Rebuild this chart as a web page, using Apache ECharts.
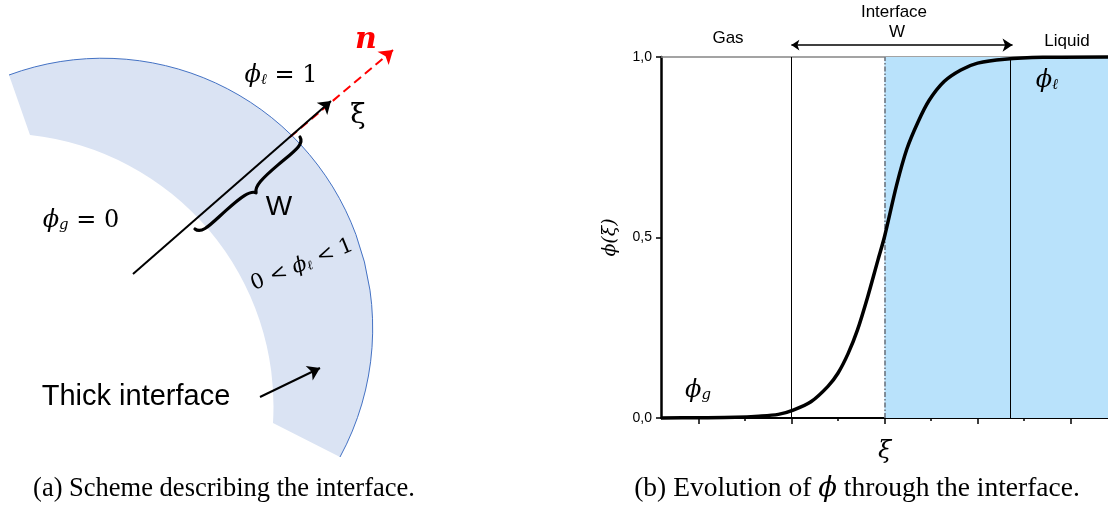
<!DOCTYPE html>
<html>
<head>
<meta charset="utf-8">
<script src="https://cdn.jsdelivr.net/npm/echarts@6/dist/echarts.min.js"></script>
<style>
html, body { margin: 0; padding: 0; background: #fff; }
#main { width: 1108px; height: 512px; }
</style>
</head>
<body>
<div id="main"></div>
<script>
// (b) phi(xi) 曲线 —— 点
var xiValues  = [-2.4, -2.0, -1.6, -1.35, -1.14, -0.98, -0.79, -0.61, -0.5, -0.39, -0.29, -0.18, -0.07, 0, 0.13, 0.24, 0.36, 0.48, 0.64, 0.82, 1.0, 1.29, 1.7, 2.4];
var phiValues = [0.0, 0.0008, 0.002, 0.005, 0.01, 0.022, 0.045, 0.087, 0.124, 0.179, 0.244, 0.336, 0.438, 0.502, 0.645, 0.745, 0.82, 0.88, 0.932, 0.964, 0.983, 0.994, 0.999, 1.0];
var yTicks = [0, 0.5, 1];
var xMajorTicks = [-2, -1, 0, 1, 2];
var xMinorTicks = [-1.5, -0.5, 0.5, 1.5];
var interfaceBounds = [-1, 1.35];
var interfaceArrow = [[-1, 1.033], [1.375, 1.033]];
var liquidStart = 0;

// (a) 示意图几何（左图像素单位）
var outerArc = [100, 331, 270];   // cx, cy, r
var innerArc = [0, 407, 273];
var bandEnds = [[9, 75], [340, 457], [273, 423], [30, 135]];
var xiArrow = [[133, 274], [331, 101]];
var nArrow = [[290, 137], [393, 50]];
var pointerArrow = [[260, 397], [320, 368]];
var braceEnds = [[195, 229], [300, 137]];
var braceDepth = 13;

var SANS = 'Liberation Sans';
var MATH = 'DejaVu Serif';
var CAPTION = 'Liberation Serif';

function fmt(v) { return v.toFixed(1).replace('.', ','); }

function renderScheme(params, api) {
    var a = api.coord(bandEnds[0]), b = api.coord(bandEnds[1]);
    var c = api.coord(bandEnds[2]), d = api.coord(bandEnds[3]);
    var R = api.size([outerArc[2], 0])[0];
    var r = api.size([innerArc[2], 0])[0];
    var band = 'M ' + a[0] + ' ' + a[1] +
        ' A ' + R + ' ' + R + ' 0 0 1 ' + b[0] + ' ' + b[1] +
        ' L ' + c[0] + ' ' + c[1] +
        ' A ' + r + ' ' + r + ' 0 0 0 ' + d[0] + ' ' + d[1] + ' Z';
    var edge = 'M ' + a[0] + ' ' + a[1] + ' A ' + R + ' ' + R + ' 0 0 1 ' + b[0] + ' ' + b[1];

    // 大括号：局部坐标下画，然后旋转到箭头方向
    var p0 = api.coord(braceEnds[0]), p1 = api.coord(braceEnds[1]);
    var L = Math.sqrt(Math.pow(p1[0] - p0[0], 2) + Math.pow(p1[1] - p0[1], 2));
    var ang = Math.atan2(-(p1[1] - p0[1]), p1[0] - p0[0]);
    var h = braceDepth, q = h * 0.5;
    var brace = 'M 0 0 C ' + (L * 0.01) + ' ' + (q * 1.3) + ' ' + (L * 0.1) + ' ' + (q * 1.05) + ' ' + (L * 0.25) + ' ' + q +
        ' C ' + (L * 0.4) + ' ' + (q * 0.95) + ' ' + (L * 0.48) + ' ' + (q * 1.1) + ' ' + (L * 0.5) + ' ' + h +
        ' C ' + (L * 0.52) + ' ' + (q * 1.1) + ' ' + (L * 0.6) + ' ' + (q * 0.95) + ' ' + (L * 0.75) + ' ' + q +
        ' C ' + (L * 0.9) + ' ' + (q * 1.05) + ' ' + (L * 0.99) + ' ' + (q * 1.3) + ' ' + L + ' 0';

    return {
        type: 'group',
        children: [
            { type: 'path', shape: { pathData: band }, style: { fill: '#dae3f3', stroke: null } },
            { type: 'path', shape: { pathData: edge }, style: { fill: null, stroke: '#4472c4', lineWidth: 1 } },
            { type: 'path', x: p0[0], y: p0[1], rotation: ang, shape: { pathData: brace },
              style: { fill: null, stroke: '#000', lineWidth: 3.2, lineCap: 'round', lineJoin: 'round' } }
        ]
    };
}

function mathText(x, y, parts, size, extra) {
    var rich = {
        i: { fontFamily: MATH, fontStyle: 'italic', fontSize: size, fill: '#000' },
        s: { fontFamily: MATH, fontStyle: 'italic', fontSize: size * 0.62, fill: '#000', verticalAlign: 'bottom' },
        n: { fontFamily: MATH, fontSize: size, fill: '#000' },
        c: { fontFamily: CAPTION, fontSize: size, fill: '#000' }
    };
    var el = {
        type: 'text', x: x, y: y, z: 100,
        style: { text: parts, rich: rich, align: 'center', verticalAlign: 'middle' }
    };
    if (extra) for (var k in extra) el[k] = extra[k];
    return el;
}

function plainText(x, y, text, size, family, extra) {
    var style = { text: text, fontFamily: family, fontSize: size, fill: '#000', align: 'center', verticalAlign: 'middle' };
    if (extra) for (var k in extra) style[k] = extra[k];
    return { type: 'text', x: x, y: y, z: 100, style: style };
}

var chart = echarts.init(document.getElementById('main'));

var option = {
    animation: false,
    backgroundColor: '#fff',
    grid: [
        { left: 661, top: 57, width: 447, height: 361 },
        { left: 0, top: 0, width: 400, height: 470 }
    ],
    xAxis: [
        {
            type: 'value', gridIndex: 0, position: 'bottom', min: -2.4, max: 2.4,
            axisLine: { onZero: false, lineStyle: { color: '#000', width: 2 } },
            axisTick: { customValues: xMajorTicks, length: 6, lineStyle: { color: '#000', width: 1.5 } },
            axisLabel: { show: false },
            splitLine: { show: false },
            name: 'ξ', nameLocation: 'middle', nameGap: 22,
            nameTextStyle: { fontFamily: MATH, fontStyle: 'italic', fontSize: 24, color: '#000' }
        },
        {
            type: 'value', gridIndex: 0, position: 'top', min: -2.4, max: 2.4,
            axisLine: { onZero: false, lineStyle: { color: '#858585', width: 1.5 } },
            axisTick: { show: false }, axisLabel: { show: false }, splitLine: { show: false }
        },
        {
            type: 'value', gridIndex: 0, position: 'bottom', min: -2.4, max: 2.4,
            axisLine: { show: false, onZero: false },
            axisTick: { customValues: xMinorTicks, length: 3, lineStyle: { color: '#000', width: 1.5 } },
            axisLabel: { show: false }, splitLine: { show: false }
        },
        { type: 'value', gridIndex: 1, min: 0, max: 400, show: false }
    ],
    yAxis: [
        {
            type: 'value', gridIndex: 0, min: 0, max: 1, interval: 0.5,
            axisLine: { show: true, onZero: false, lineStyle: { color: '#000', width: 2.5 } },
            axisTick: { show: true, length: 5, lineStyle: { color: '#000', width: 1.5 } },
            axisLabel: { formatter: fmt, fontFamily: SANS, fontSize: 14, color: '#000', margin: 9 },
            splitLine: { show: false },
            name: 'ϕ(ξ)', nameLocation: 'middle', nameGap: 41, nameRotate: 90,
            nameTextStyle: { fontFamily: MATH, fontStyle: 'italic', fontSize: 19, color: '#000' }
        },
        { type: 'value', gridIndex: 1, min: 0, max: 470, inverse: true, show: false }
    ],
    series: [
        {
            name: 'phi',
            type: 'line',
            xAxisIndex: 0, yAxisIndex: 0,
            data: xiValues.map(function (x, i) { return [x, phiValues[i]]; }),
            smooth: 0.3,
            showSymbol: false,
            clip: false,
            lineStyle: { color: '#000', width: 3.5 },
            z: 5,
            markArea: {
                silent: true,
                itemStyle: { color: '#b9e2fb' },
                data: [[{ xAxis: liquidStart, yAxis: 0 }, { xAxis: 2.4, yAxis: 1 }]]
            },
            markLine: {
                silent: true,
                symbol: 'none',
                label: { show: false },
                data: [
                    { xAxis: interfaceBounds[0], lineStyle: { color: '#000', width: 1, type: 'solid' } },
                    { xAxis: interfaceBounds[1], lineStyle: { color: '#000', width: 1, type: 'solid' } },
                    { xAxis: liquidStart, lineStyle: { color: '#6a6f78', width: 1.5, type: [5, 2, 1.5, 2] } }
                ]
            }
        },
        {
            type: 'lines', coordinateSystem: 'cartesian2d', xAxisIndex: 0, yAxisIndex: 0,
            clip: false, silent: true,
            symbol: ['arrow', 'arrow'], symbolSize: [8, 10],
            lineStyle: { color: '#000', width: 1.5, opacity: 1 },
            data: [{ coords: interfaceArrow }]
        },
        {
            type: 'custom', coordinateSystem: 'cartesian2d', xAxisIndex: 3, yAxisIndex: 1,
            silent: true, clip: false,
            data: [[0, 0]],
            renderItem: renderScheme,
            z: 1
        },
        {
            type: 'lines', coordinateSystem: 'cartesian2d', xAxisIndex: 3, yAxisIndex: 1,
            clip: false, silent: true, z: 3,
            symbol: ['none', 'arrow'], symbolSize: 13,
            lineStyle: { color: '#ff0000', width: 2, type: [9, 5], opacity: 1 },
            data: [{ coords: nArrow }]
        },
        {
            type: 'lines', coordinateSystem: 'cartesian2d', xAxisIndex: 3, yAxisIndex: 1,
            clip: false, silent: true, z: 4,
            symbol: ['none', 'arrow'], symbolSize: 12,
            lineStyle: { color: '#000', width: 2, opacity: 1 },
            data: [{ coords: xiArrow }, { coords: pointerArrow }]
        }
    ],
    graphic: [
        // (a) 标注
        mathText(281, 76, '{i|ϕ}{s|ℓ}{n| = 1}', 24),
        plainText(366, 40, 'n', 30, MATH, { fill: '#ff0000', fontWeight: 'bold', fontStyle: 'italic' }),
        plainText(358, 116, 'ξ', 28, MATH),
        plainText(279, 207, 'W', 28, SANS),
        mathText(81, 221, '{i|ϕ}{s|g}{n| = 0}', 24),
        mathText(302, 265, '{n|0 < }{i|ϕ}{s|ℓ}{n| < 1}', 21, { rotation: 22 * Math.PI / 180 }),
        plainText(136, 397, 'Thick interface', 29, SANS),
        // (b) 标注
        plainText(728, 38, 'Gas', 17, SANS),
        plainText(894, 12, 'Interface', 17, SANS),
        plainText(897, 32, 'W', 17, SANS),
        plainText(1067, 41, 'Liquid', 17, SANS),
        mathText(1047, 81, '{i|ϕ}{s|ℓ}', 24),
        mathText(698, 391, '{i|ϕ}{s|g}', 24),
        // 图注
        mathText(224, 489, '{c|(a) Scheme describing the interface.}', 26.5),
        mathText(857, 489, '{c|(b) Evolution of }{i|ϕ}{c| through the interface.}', 27.5)
    ]
};

chart.setOption(option);
</script>
</body>
</html>
